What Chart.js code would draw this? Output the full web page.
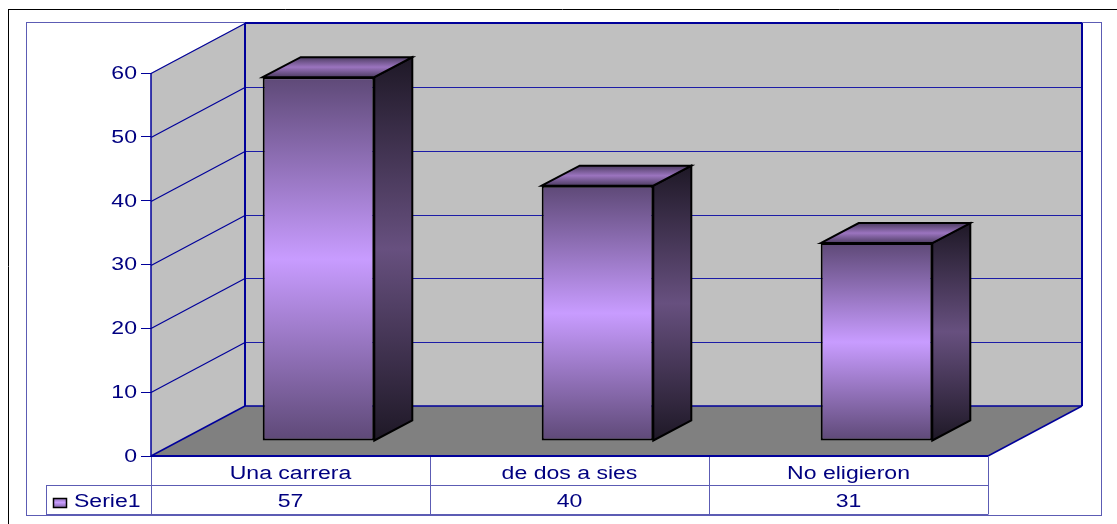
<!DOCTYPE html>
<html><head><meta charset="utf-8">
<style>html,body{margin:0;padding:0;background:#fff}canvas{display:block}</style>
<script src="https://cdn.jsdelivr.net/npm/chart.js@4"></script>
</head><body>
<canvas id="c" width="1117" height="524"></canvas>
<script>
const categories = ["Una carrera", "de dos a sies", "No eligieron"];
const seriesName = "Serie1";
const serie1 = [57, 40, 31];
const yMin = 0, yMax = 60, yStep = 10;

const NAVY = "#000080", LINE = "#00009a", FRAME = "#5c5cb4";
const DX = 94, DY = 50, BX = 28, BY = 15, SX = 38, SY = 20, STRETCH = 1.28;
const FONT = {family: "'Liberation Sans', Arial, sans-serif", size: 18};

function ramp(ctx, y0, y1, end, mid) {
  const g = ctx.createLinearGradient(0, y0, 0, y1);
  g.addColorStop(0, end); g.addColorStop(0.5, mid); g.addColorStop(1, end);
  return g;
}
function poly(ctx, pts, fill, stroke, lw) {
  ctx.beginPath();
  pts.forEach((p, i) => i ? ctx.lineTo(p[0], p[1]) : ctx.moveTo(p[0], p[1]));
  ctx.closePath();
  if (fill) { ctx.fillStyle = fill; ctx.fill(); }
  if (stroke) { ctx.strokeStyle = stroke; ctx.lineWidth = lw; ctx.lineJoin = "miter"; ctx.stroke(); }
}
function seg(ctx, x0, y0, x1, y1, color, lw) {
  ctx.beginPath(); ctx.moveTo(x0, y0); ctx.lineTo(x1, y1);
  ctx.strokeStyle = color; ctx.lineWidth = lw; ctx.stroke();
}

const stage = {
  id: "stage",
  beforeInit(chart) {
    const ctx = chart.ctx, orig = ctx.fillText.bind(ctx);
    ctx.fillText = function (t, x, y, m) {
      ctx.save(); ctx.translate(x, y + 1); ctx.scale(STRETCH, 1);
      if (m === undefined) orig(t, 0, 0); else orig(t, 0, 0, m);
      ctx.restore();
    };
  },
  beforeDraw(chart) {
    const ctx = chart.ctx, a = chart.chartArea, ys = chart.scales.y;
    const L = a.left, R = a.right, T = a.top, B = a.bottom;
    ctx.save();
    ctx.fillStyle = "#fff"; ctx.fillRect(0, 0, chart.width, chart.height);
    // page frame
    seg(ctx, 8.5, 9, 8.5, 524, "#000", 1);
    seg(ctx, 8, 9.5, 1117, 9.5, "#000", 1);
    ctx.strokeStyle = FRAME; ctx.lineWidth = 1; ctx.strokeRect(26.5, 22.5, 1075, 493);
    // walls and floor
    poly(ctx, [[L + DX, T - DY], [R + DX, T - DY], [R + DX, B - DY], [L + DX, B - DY]], "#c0c0c0");
    poly(ctx, [[L, T], [L + DX, T - DY], [L + DX, B - DY], [L, B]], "#c0c0c0");
    poly(ctx, [[L, B], [L + DX, B - DY], [R + DX, B - DY], [R, B]], "#808080");
    // gridlines
    ys.ticks.forEach(t => {
      if (t.value === yMin) return;
      const y = Math.round(ys.getPixelForValue(t.value)) + .5;
      seg(ctx, L, y, L + DX, y - DY, LINE, 1.2);
      if (t.value !== yMax) seg(ctx, L + DX, y - DY, R + DX, y - DY, "#1c1ca6", 1.2);
    });
    // heavy edges
    seg(ctx, L, T, L, B, LINE, 1.5);
    seg(ctx, L + DX, T - DY, L + DX, B - DY, LINE, 2);
    seg(ctx, L + DX, T - DY, R + DX, T - DY, LINE, 2);
    seg(ctx, R + DX, T - DY, R + DX, B - DY, LINE, 2);
    seg(ctx, L + DX, B - DY, R + DX, B - DY, LINE, 1.5);
    seg(ctx, L, B, L + DX, B - DY, LINE, 1.5);
    seg(ctx, R, B, R + DX, B - DY, LINE, 1.5);
    // data table lines
    const xs = chart.scales.x, cw = (R - L) / categories.length, r1 = 485.5, r2 = 514.5;
    for (let i = 0; i <= categories.length; i++) {
      const x = Math.round(L + i * cw) + .5;
      seg(ctx, x, B, x, r2, FRAME, 1);
    }
    seg(ctx, 46, r1, R, r1, FRAME, 1);
    seg(ctx, 46.5, r1, 46.5, r2, FRAME, 1);
    seg(ctx, 46, r2, R, r2, FRAME, 1);
    seg(ctx, L, B, R, B, LINE, 2);
    // table values and legend key
    ctx.font = FONT.size + "px " + FONT.family;
    ctx.fillStyle = NAVY; ctx.textBaseline = "middle"; ctx.textAlign = "center";
    serie1.forEach((v, i) => ctx.fillText(String(v), xs.getPixelForValue(i), 501));
    ctx.textAlign = "left";
    ctx.fillText(seriesName, 74, 501);
    const g = ctx.createLinearGradient(0, 498, 0, 507);
    g.addColorStop(0, "#8a6cb0"); g.addColorStop(.5, "#c89cff"); g.addColorStop(1, "#8a6cb0");
    ctx.fillStyle = g; ctx.fillRect(53.5, 498.5, 13, 9);
    ctx.strokeStyle = "#000"; ctx.lineWidth = 1.5; ctx.strokeRect(53.5, 498.5, 13, 9);
    ctx.restore();
  },
  beforeDatasetsDraw(chart) {
    chart.ctx.save();
    chart.ctx.translate(BX, -BY);
  },
  afterDatasetsDraw(chart) {
    const ctx = chart.ctx;
    chart.getDatasetMeta(0).data.forEach(b => {
      const l = b.x - b.width / 2, r = b.x + b.width / 2, t = b.y, v = b.base;
      const side = ramp(ctx, t - SY, v, "#1e1826", "#67507f");
      poly(ctx, [[r, t], [r + SX, t - SY], [r + SX, v - SY], [r, v]], side, "#000", 2);
      const top = ramp(ctx, t - SY, t, "#4e3d63", "#9b74bf");
      poly(ctx, [[l, t], [l + SX, t - SY], [r + SX, t - SY], [r, t]], top, "#000", 2);
    });
    ctx.restore();
  }
};

new Chart(document.getElementById("c"), {
  type: "bar",
  plugins: [stage],
  data: {
    labels: categories,
    datasets: [{
      label: seriesName,
      data: serie1,
      categoryPercentage: 1,
      barPercentage: 0.4,
      borderColor: "#000",
      borderWidth: 2,
      borderSkipped: false,
      backgroundColor(c) {
        const ch = c.chart, ys = ch.scales.y;
        if (!ys || !c.parsed) return "#c89cff";
        const y0 = ys.getPixelForValue(c.parsed.y), y1 = ys.getPixelForValue(0);
        if (!isFinite(y0) || !isFinite(y1)) return "#c89cff";
        return ramp(ch.ctx, y0, y1, "#5e4977", "#c89cff");
      }
    }]
  },
  options: {
    responsive: false,
    animation: false,
    layout: {padding: {left: 0, top: 73, right: 129, bottom: 0}},
    plugins: {legend: {display: false}, title: {display: false}, tooltip: {enabled: false}},
    scales: {
      x: {
        grid: {display: false, drawTicks: false},
        border: {display: false},
        afterFit(s) { s.height = 68; },
        ticks: {color: NAVY, font: FONT, padding: 6, maxRotation: 0, minRotation: 0, autoSkip: false}
      },
      y: {
        min: yMin, max: yMax,
        afterFit(s) { s.width = 151; },
        grid: {drawOnChartArea: false, drawTicks: true, tickLength: 10, color: LINE, lineWidth: 1},
        border: {display: false},
        ticks: {stepSize: yStep, color: NAVY, font: FONT, padding: 4}
      }
    }
  }
});
</script>
</body></html>
